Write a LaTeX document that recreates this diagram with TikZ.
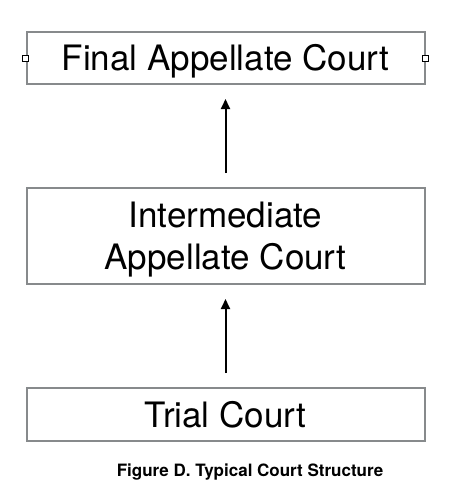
\documentclass[tikz,border=0pt]{standalone}
\usepackage{fontspec}
\setmainfont{TeX Gyre Heros}
\usetikzlibrary{arrows.meta}
\definecolor{boxgray}{HTML}{878A8C}
\tikzset{
  courtbox/.style={draw=boxgray, line width=2pt, fill=white, minimum width=398pt, inner sep=0pt,
    font=\fontsize{35}{42}\selectfont, text=black},
  handle/.style={draw=black, fill=white, line width=0.8pt, minimum size=6pt, inner sep=0pt},
  uparrow/.style={-{Triangle[length=10pt,width=9pt]}, line width=2pt, black, shorten >=14pt, shorten <=14pt},
  caption/.style={font=\bfseries\fontsize{17}{20}\selectfont, text=black}
}
\begin{document}
\begin{tikzpicture}[x=1pt,y=-1pt]
\useasboundingbox (0,0) rectangle (464,498);
\node[courtbox, minimum height=52pt, text height=25pt, text depth=0pt] (final) at (225.5,58) {Final Appellate Court};
\node[handle] (hl) at (final.west) {};
\node[handle] (hr) at (final.east) {};
\node[courtbox, minimum height=96pt, align=center, text height=66pt, text depth=0pt] (inter) at (225.5,236) {Intermediate\\Appellate Court};
\node[courtbox, minimum height=53pt, text height=25pt, text depth=0pt] (trial) at (225.5,414.5) {Trial Court};
\draw[uparrow] (inter.north) -- (final.south);
\draw[uparrow] (trial.north) -- (inter.south);
\node[caption] (cap) at (250,472) {Figure D. Typical Court Structure};
\end{tikzpicture}
\end{document}
